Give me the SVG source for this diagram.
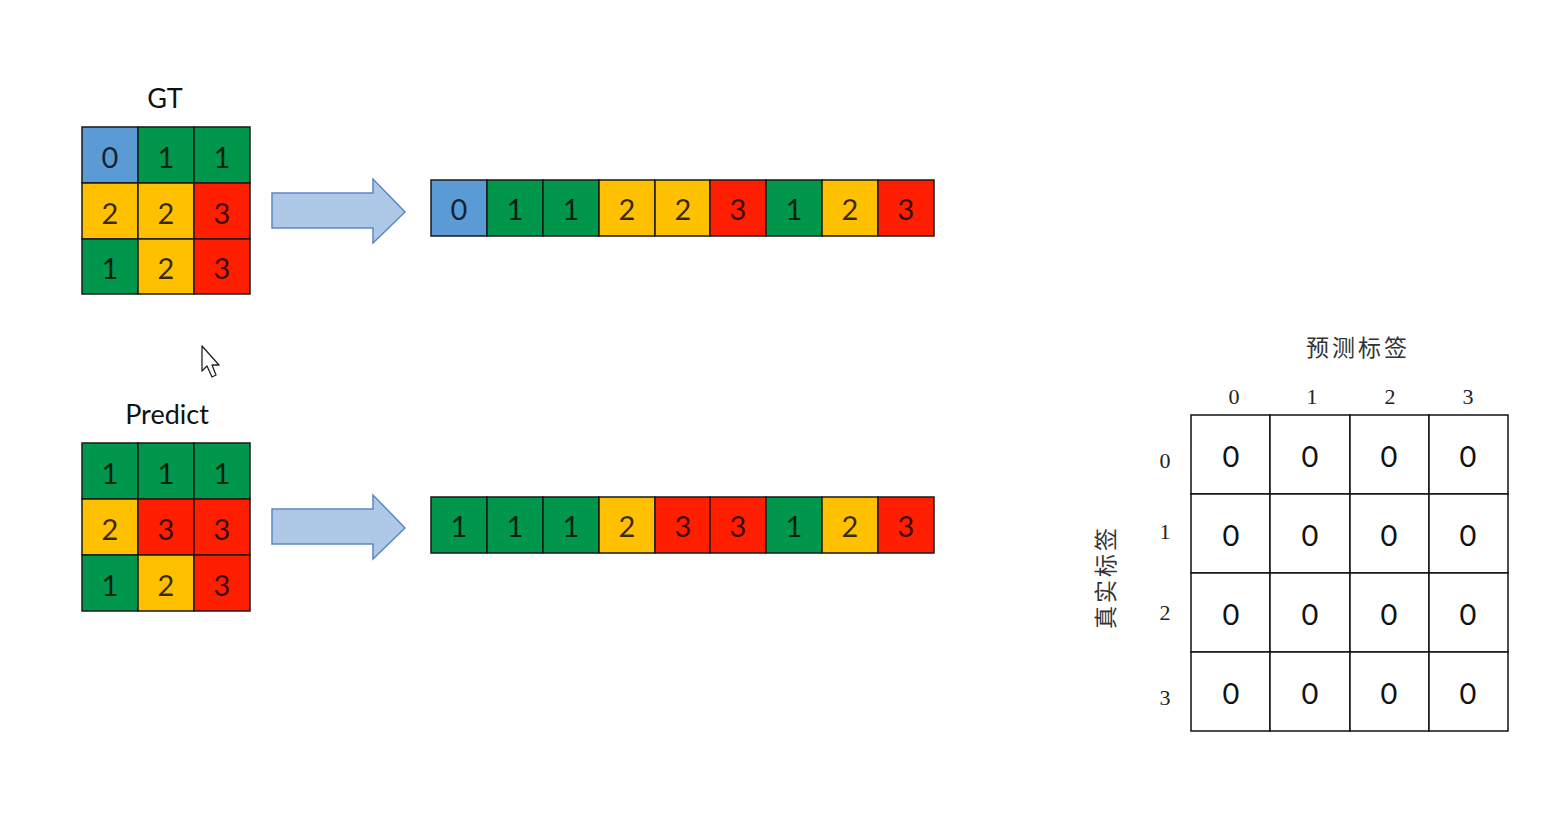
<svg xmlns="http://www.w3.org/2000/svg" width="1563" height="827" viewBox="0 0 1563 827">
<style>
.c{stroke:#1a1a1a;stroke-width:1.5}
.b{fill:#5b9bd5}.g{fill:#00964c}.y{fill:#ffc000}.r{fill:#ff1e00}
.t{font-family:Lato,"Open Sans",sans-serif;font-size:29px;fill:#000;fill-opacity:0.78;text-anchor:middle;dominant-baseline:central}
.lab{font-family:Lato,"Open Sans",sans-serif;font-size:27px;fill:#111;text-anchor:middle;dominant-baseline:central}
.arr{fill:#aec8e8;stroke:#5d87c2;stroke-width:1.5}
.m{fill:#fff;stroke:#111;stroke-width:1.5}
.z{font-family:Lato,"Open Sans",sans-serif;font-size:29px;fill:#111;text-anchor:middle;dominant-baseline:central}
.h{font-family:"Liberation Serif",serif;font-size:22px;fill:#222;text-anchor:middle;dominant-baseline:central}
.cj{font-family:"Noto Sans CJK SC",sans-serif;font-size:23px;letter-spacing:3px;fill:#333;text-anchor:middle;dominant-baseline:central}
</style>
<rect width="1563" height="827" fill="#fff"/>

<g id="gt">
<text class="lab" x="165" y="97">GT</text>
<rect class="c b" x="82" y="127" width="56" height="56"/><text class="t" x="110" y="156">0</text>
<rect class="c g" x="138" y="127" width="56" height="56"/><text class="t" x="166" y="156">1</text>
<rect class="c g" x="194" y="127" width="56" height="56"/><text class="t" x="222" y="156">1</text>
<rect class="c y" x="82" y="183" width="56" height="56"/><text class="t" x="110" y="212">2</text>
<rect class="c y" x="138" y="183" width="56" height="56"/><text class="t" x="166" y="212">2</text>
<rect class="c r" x="194" y="183" width="56" height="56"/><text class="t" x="222" y="212">3</text>
<rect class="c g" x="82" y="239" width="56" height="55"/><text class="t" x="110" y="267">1</text>
<rect class="c y" x="138" y="239" width="56" height="55"/><text class="t" x="166" y="267">2</text>
<rect class="c r" x="194" y="239" width="56" height="55"/><text class="t" x="222" y="267">3</text>
</g>

<g id="predict">
<text class="lab" x="167" y="413">Predict</text>
<rect class="c g" x="82" y="443" width="56" height="56"/><text class="t" x="110" y="472">1</text>
<rect class="c g" x="138" y="443" width="56" height="56"/><text class="t" x="166" y="472">1</text>
<rect class="c g" x="194" y="443" width="56" height="56"/><text class="t" x="222" y="472">1</text>
<rect class="c y" x="82" y="499" width="56" height="56"/><text class="t" x="110" y="528">2</text>
<rect class="c r" x="138" y="499" width="56" height="56"/><text class="t" x="166" y="528">3</text>
<rect class="c r" x="194" y="499" width="56" height="56"/><text class="t" x="222" y="528">3</text>
<rect class="c g" x="82" y="555" width="56" height="56"/><text class="t" x="110" y="584">1</text>
<rect class="c y" x="138" y="555" width="56" height="56"/><text class="t" x="166" y="584">2</text>
<rect class="c r" x="194" y="555" width="56" height="56"/><text class="t" x="222" y="584">3</text>
</g>

<g id="connectors">
<path class="arr" d="M272,193 H373 V179 L405,212 L373,243 V228 H272 Z"/>
<path class="arr" d="M272,509 H373 V495 L405,528 L373,559 V544 H272 Z"/>
</g>

<g id="gt-flat">
<rect class="c b" x="431" y="180" width="56" height="56"/><text class="t" x="459" y="208">0</text>
<rect class="c g" x="487" y="180" width="56" height="56"/><text class="t" x="515" y="208">1</text>
<rect class="c g" x="543" y="180" width="56" height="56"/><text class="t" x="571" y="208">1</text>
<rect class="c y" x="599" y="180" width="56" height="56"/><text class="t" x="627" y="208">2</text>
<rect class="c y" x="655" y="180" width="55" height="56"/><text class="t" x="683" y="208">2</text>
<rect class="c r" x="710" y="180" width="56" height="56"/><text class="t" x="738" y="208">3</text>
<rect class="c g" x="766" y="180" width="56" height="56"/><text class="t" x="794" y="208">1</text>
<rect class="c y" x="822" y="180" width="56" height="56"/><text class="t" x="850" y="208">2</text>
<rect class="c r" x="878" y="180" width="56" height="56"/><text class="t" x="906" y="208">3</text>
</g>

<g id="pred-flat">
<rect class="c g" x="431" y="497" width="56" height="56"/><text class="t" x="459" y="525">1</text>
<rect class="c g" x="487" y="497" width="56" height="56"/><text class="t" x="515" y="525">1</text>
<rect class="c g" x="543" y="497" width="56" height="56"/><text class="t" x="571" y="525">1</text>
<rect class="c y" x="599" y="497" width="56" height="56"/><text class="t" x="627" y="525">2</text>
<rect class="c r" x="655" y="497" width="55" height="56"/><text class="t" x="683" y="525">3</text>
<rect class="c r" x="710" y="497" width="56" height="56"/><text class="t" x="738" y="525">3</text>
<rect class="c g" x="766" y="497" width="56" height="56"/><text class="t" x="794" y="525">1</text>
<rect class="c y" x="822" y="497" width="56" height="56"/><text class="t" x="850" y="525">2</text>
<rect class="c r" x="878" y="497" width="56" height="56"/><text class="t" x="906" y="525">3</text>
</g>

<g id="cursor">
<path d="M202,346 V371 L207,366 L212,377 L216,375 L212,365 L219,365 Z" fill="#fff" stroke="#222" stroke-width="1.3" stroke-linejoin="round"/>
</g>

<g id="matrix">
<text class="cj" x="1358" y="346">预测标签</text>
<text class="cj" transform="translate(1104,577) rotate(-90)" x="0" y="0">真实标签</text>
<text class="h" x="1234" y="396">0</text>
<text class="h" x="1312" y="396">1</text>
<text class="h" x="1390" y="396">2</text>
<text class="h" x="1468" y="396">3</text>
<text class="h" x="1165" y="460">0</text>
<text class="h" x="1165" y="531">1</text>
<text class="h" x="1165" y="612">2</text>
<text class="h" x="1165" y="697">3</text>
<rect class="m" x="1191" y="415" width="79" height="79"/><rect class="m" x="1270" y="415" width="80" height="79"/><rect class="m" x="1350" y="415" width="79" height="79"/><rect class="m" x="1429" y="415" width="79" height="79"/>
<rect class="m" x="1191" y="494" width="79" height="79"/><rect class="m" x="1270" y="494" width="80" height="79"/><rect class="m" x="1350" y="494" width="79" height="79"/><rect class="m" x="1429" y="494" width="79" height="79"/>
<rect class="m" x="1191" y="573" width="79" height="79"/><rect class="m" x="1270" y="573" width="80" height="79"/><rect class="m" x="1350" y="573" width="79" height="79"/><rect class="m" x="1429" y="573" width="79" height="79"/>
<rect class="m" x="1191" y="652" width="79" height="79"/><rect class="m" x="1270" y="652" width="80" height="79"/><rect class="m" x="1350" y="652" width="79" height="79"/><rect class="m" x="1429" y="652" width="79" height="79"/>
<text class="z" x="1231" y="455">0</text><text class="z" x="1310" y="455">0</text><text class="z" x="1389" y="455">0</text><text class="z" x="1468" y="455">0</text>
<text class="z" x="1231" y="534">0</text><text class="z" x="1310" y="534">0</text><text class="z" x="1389" y="534">0</text><text class="z" x="1468" y="534">0</text>
<text class="z" x="1231" y="613">0</text><text class="z" x="1310" y="613">0</text><text class="z" x="1389" y="613">0</text><text class="z" x="1468" y="613">0</text>
<text class="z" x="1231" y="692">0</text><text class="z" x="1310" y="692">0</text><text class="z" x="1389" y="692">0</text><text class="z" x="1468" y="692">0</text>
</g>
</svg>
